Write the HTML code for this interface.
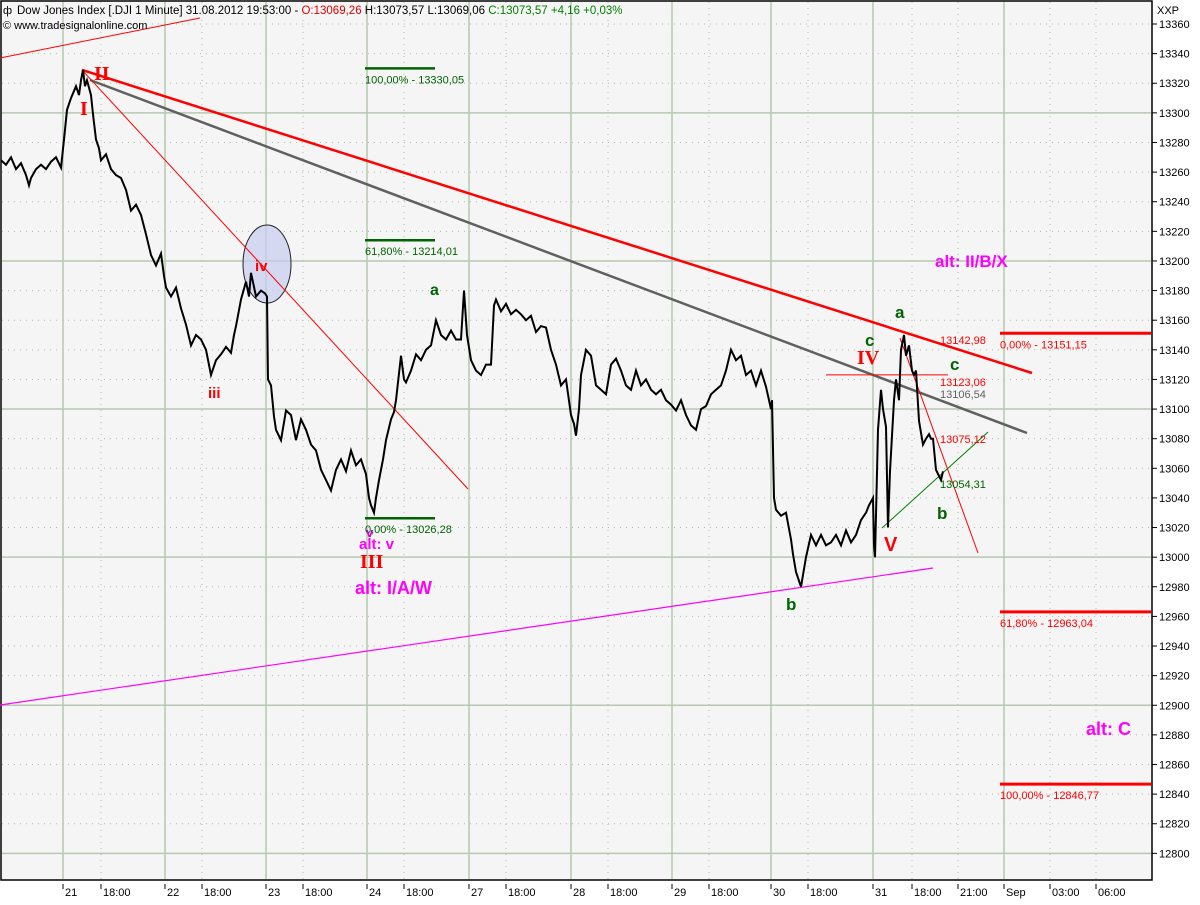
<!DOCTYPE html>
<html><head><meta charset="utf-8">
<style>
html,body{margin:0;padding:0;background:#fff;}
body{width:1200px;height:900px;overflow:hidden;font-family:"Liberation Sans",sans-serif;}
svg text{font-family:"Liberation Sans",sans-serif;}
</style></head>
<body>
<svg id="chart" width="1200" height="900" viewBox="0 0 1200 900" xmlns="http://www.w3.org/2000/svg">
<rect x="0" y="0" width="1200" height="900" fill="#ffffff"/>
<rect x="1" y="1" width="1151" height="879" fill="#f5f5f5" stroke="#000" stroke-width="1.5"/>
<g id="grid"></g>
<g id="axes"></g>
<g id="annot"></g>
<g id="series"></g>
<g id="labels"></g>
<text x="17" y="14" font-size="11.5" fill="#000"><tspan>Dow Jones Index [.DJI  1 Minute] 31.08.2012 19:53:00 - </tspan><tspan fill="#e00000">O:13069,26</tspan><tspan> H:13073,57 L:13069,06 </tspan><tspan fill="#008000">C:13073,57 +4,16 +0,03%</tspan></text>
<text x="3" y="14" font-size="11">ф</text>
<text x="3" y="29" font-size="11">© www.tradesignalonline.com</text>
<text x="1157" y="14" font-size="11">XXP</text>
</svg>
<script>
// ---- data ----
const priceTicks = [13360,13340,13320,13300,13280,13260,13240,13220,13200,13180,13160,13140,13120,13100,13080,13060,13040,13020,13000,12980,12960,12940,12920,12900,12880,12860,12840,12820,12800];
const timeTickLabels = ["21","18:00","22","18:00","23","18:00","24","18:00","27","18:00","28","18:00","29","18:00","30","18:00","31","18:00","21:00","Sep","03:00","06:00"];
const timeTickPos = [63,101,165,202,266,303,367,404,469,506,571,608,672,709,771,808,873,912,958,1004,1050,1096];
const timeTickMajor = [1,0,1,0,1,0,1,0,1,0,1,0,1,0,1,0,1,0,0,1,0,0];
const barTime = [0,5,10,15,20,25,28,30,35,40,45,50,55,60,63,66,70,75,78,80,82,84,86,90,92,95,98,100,105,110,115,120,125,130,135,140,145,150,155,160,163,165,170,175,180,185,190,195,200,205,210,215,220,225,230,233,235,240,245,248,250,255,260,264,266,267,270,273,275,280,285,290,295,300,305,310,315,320,325,330,335,340,345,350,355,360,365,368,370,373,375,378,382,385,390,393,395,400,403,405,410,415,420,425,430,435,440,445,450,455,460,463,466,470,475,480,485,490,493,495,500,505,510,515,520,525,530,535,540,545,550,555,560,565,570,573,575,578,580,585,590,595,600,605,610,615,620,625,630,635,640,645,650,655,660,665,670,675,680,685,690,695,700,705,710,715,720,725,730,735,740,745,750,755,760,765,768,770,771,773,775,780,785,790,792,795,800,805,810,815,820,825,830,835,840,845,850,855,860,865,868,872,873,874,877,880,882,885,887,889,893,895,898,900,903,905,908,911,913,915,918,922,925,928,930,932,935,940,942];
const barPrice = [13268,13265,13270,13262,13266,13258,13251,13256,13262,13265,13262,13267,13270,13263,13282,13302,13310,13318,13312,13322,13329,13318,13322,13312,13299,13282,13276,13268,13272,13262,13258,13256,13248,13234,13238,13231,13218,13204,13197,13205,13190,13182,13176,13182,13168,13157,13143,13150,13147,13140,13123,13133,13137,13142,13138,13150,13156,13174,13186,13176,13192,13176,13180,13178,13176,13120,13116,13095,13086,13079,13099,13096,13079,13093,13086,13076,13072,13059,13052,13045,13059,13066,13058,13072,13062,13066,13056,13040,13035,13030,13040,13052,13066,13079,13093,13098,13106,13136,13120,13118,13126,13137,13133,13140,13143,13160,13150,13147,13153,13147,13147,13180,13150,13133,13126,13123,13130,13130,13170,13174,13166,13171,13164,13167,13164,13160,13163,13152,13156,13155,13140,13130,13116,13120,13096,13090,13082,13100,13123,13140,13136,13116,13113,13110,13130,13134,13126,13116,13113,13126,13116,13120,13113,13110,13113,13106,13103,13099,13106,13096,13089,13086,13100,13102,13110,13113,13116,13126,13140,13133,13136,13123,13126,13116,13126,13115,13106,13100,13106,13040,13032,13028,13030,13012,13002,12990,12980,13000,13015,13008,13015,13008,13010,13015,13008,13018,13010,13015,13025,13030,13035,13040,13008,13000,13086,13113,13100,13088,13020,13058,13106,13120,13106,13140,13150,13136,13143,13126,13123,13126,13092,13076,13080,13083,13080,13080,13059,13052,13058,13068,13073];

// ---- scales ----
const Y0 = 24, PPU = 1.481;
function yScale(p){ return Y0 + (13360 - p) * PPU; }
function xScale(t){ return 1 + t; }

const NS = "http://www.w3.org/2000/svg";
function mk(tag, attrs, parent){
  const e = document.createElementNS(NS, tag);
  for (const k in attrs) e.setAttribute(k, attrs[k]);
  parent.appendChild(e);
  return e;
}
const grid = document.getElementById('grid');
const axes = document.getElementById('axes');
const annot = document.getElementById('annot');
const series = document.getElementById('series');
const labels = document.getElementById('labels');

priceTicks.forEach(p => {
  const y = yScale(p);
  const major = p % 100 === 0;
  const gl = mk('line', {x1:2, x2:1151, y1:y, y2:y, stroke: major ? '#b5c9b0' : '#a9c1a5', 'stroke-width': major ? 1.5 : 1, 'stroke-dasharray': major ? '' : '1,5'}, grid);
  
  
  mk('line', {x1:1152, x2:1157, y1:y, y2:y, stroke:'#000'}, axes);
  const t = mk('text', {x:1159, y:y+4, 'font-size':11, fill:'#000'}, axes);
  t.textContent = String(p);
  
  
});
timeTickPos.forEach((x, i) => {
  const major = timeTickMajor[i] === 1;
  const gl = mk('line', {x1:x, x2:x, y1:2, y2:879, stroke: major ? '#b5c9b0' : '#a9c1a5', 'stroke-width': major ? 1.5 : 1, 'stroke-dasharray': major ? '' : '1,5'}, grid);
  
  
  mk('line', {x1:x, x2:x, y1:884, y2:889, stroke:'#000'}, axes);
  const t = mk('text', {x:x+2, y:896, 'font-size':11, fill:'#000'}, axes);
  t.textContent = timeTickLabels[i];
  
  
});

function ln(x1,y1,x2,y2,c,w,name){
  const l = mk('line', {x1:x1,y1:y1,x2:x2,y2:y2,stroke:c,'stroke-width':w}, annot);
  
  
  return l;
}
const ell = mk('ellipse',{cx:267,cy:264,rx:24,ry:39,fill:'#c8ccf0','fill-opacity':0.7,stroke:'#222','stroke-width':1},annot);


ln(0,58,200,18,'#ff0000',1,'upper-channel-line');
ln(82,yScale(13329),1032,373,'#ff0000',2.5,'main-downtrend-line');
ln(90,80,1027,433,'#606060',2.5,'gray-trend-line');
ln(82,yScale(13329),468,489,'#ff0000',1,'wave-trend-line');
ln(0,705,933,568,'#ff00ff',1.2,'lower-support-line');
ln(900,338,978,553,'#ff0000',1,'short-trend-line');
ln(882,528,988,432,'#008000',1,'triangle-support-line');
ln(826,yScale(13123.06),948,yScale(13123.06),'#ff0000',1,'level-13123-line');
[[13330.05,'100,00% - 13330,05'],[13214.01,'61,80% - 13214,01'],[13026.28,'0,00% - 13026,28']].forEach(f => {
  ln(365,yScale(f[0]),435,yScale(f[0]),'#006400',2.5,'fib-level-line');
  const t = mk('text',{x:365,y:yScale(f[0])+15,'font-size':11,fill:'#006400'},labels);
  t.textContent = f[1];
  
  
});
[[13151.15,'0,00% - 13151,15'],[12963.04,'61,80% - 12963,04'],[12846.77,'100,00% - 12846,77']].forEach(f => {
  ln(1000,yScale(f[0]),1151,yScale(f[0]),'#ff0000',3,'target-level-line');
  const t = mk('text',{x:1000,y:yScale(f[0])+15,'font-size':11,fill:'#ff0000'},labels);
  t.textContent = f[1];
  
  
});

let d = '';
barTime.forEach((t,i) => { d += (i ? 'L' : 'M') + xScale(t).toFixed(1) + ',' + yScale(barPrice[i]).toFixed(1); });
const path = mk('path',{d:d,fill:'none',stroke:'#000','stroke-width':2,'stroke-linejoin':'miter'},series);



function lbl(x,y,txt,c,size,serif,name){
  const t = mk('text',{x:x,y:y,'font-size':size,fill:c,'font-weight':'bold'},labels);
  if (serif) t.setAttribute('style','font-family:"Liberation Serif",serif');
  t.textContent = txt;
  
  
}
lbl(80,115,'I','#ff0000',20,true,'wave-label-I');
lbl(94,80,'II','#ff0000',20,true,'wave-label-II');
lbl(208,398,'iii','#ff0000',15,false,'wave-label-iii');
lbl(255,271,'iv','#ff0000',15,false,'wave-label-iv');
lbl(366,537,'v','#cc00cc',13,false,'wave-label-v');
lbl(359,549,'alt: v','#ff00ff',15,false,'alt-v-label');
lbl(360,568,'III','#ff0000',20,true,'wave-label-III');
lbl(355,594,'alt: I/A/W','#ff00ff',18,false,'alt-IAW-label');
lbl(430,295,'a','#006400',16,false,'wave-label-a1');
lbl(786,610,'b','#006400',17,false,'wave-label-b1');
lbl(865,346,'c','#006400',17,false,'wave-label-c1');
lbl(857,364,'IV','#ff0000',20,true,'wave-label-IV');
lbl(895,318,'a','#006400',17,false,'wave-label-a2');
lbl(950,370,'c','#006400',17,false,'wave-label-c2');
lbl(884,551,'V','#ff0000',20,false,'wave-label-V');
lbl(937,519,'b','#006400',17,false,'wave-label-b2');
lbl(935,267,'alt: II/B/X','#ff00ff',17,false,'alt-IIBX-label');
lbl(1086,735,'alt: C','#ff00ff',18,false,'alt-C-label');
function plbl(x,y,txt,c,name){
  const t = mk('text',{x:x,y:y,'font-size':11,fill:c},labels);
  t.textContent = txt;
  
  
}
plbl(940,344,'13142,98','#ff0000','price-label-13142');
plbl(940,386,'13123,06','#ff0000','price-label-13123');
plbl(940,398,'13106,54','#606060','price-label-13106');
plbl(940,443,'13075,12','#ff0000','price-label-13075');
plbl(940,488,'13054,31','#006400','price-label-13054');
</script>
</body></html>
